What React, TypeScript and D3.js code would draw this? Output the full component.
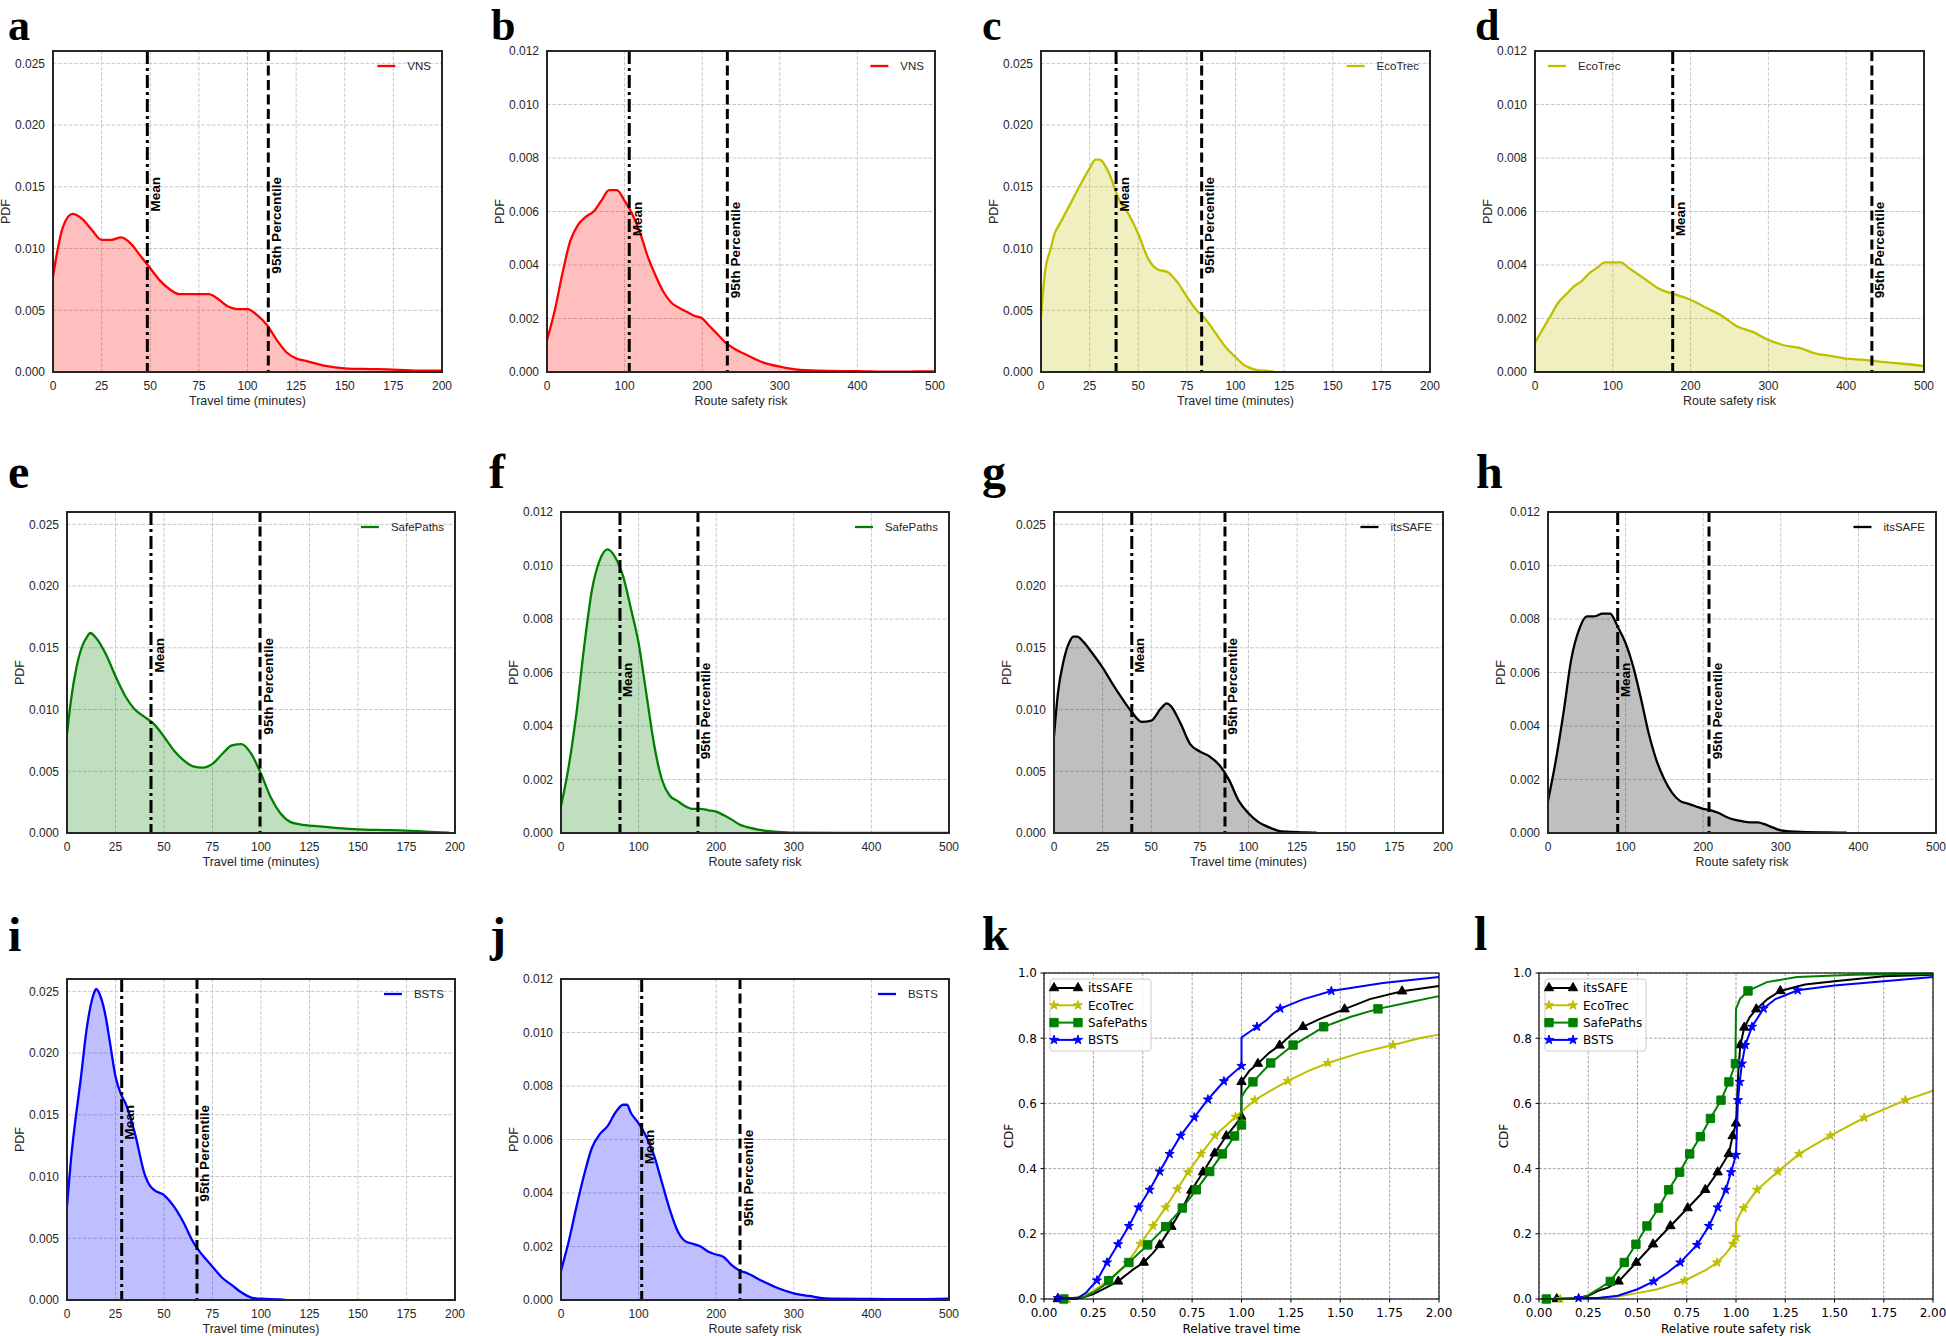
import React from 'react';
import * as d3 from 'd3';

type P = [number, number];
type C = number[]; // [x, cdf, markerFlag?]

// ---------- tick values ----------
const travelXTicks = [0, 25, 50, 75, 100, 125, 150, 175, 200];
const riskXTicks = [0, 100, 200, 300, 400, 500];
const travelYTicks = [0, 0.005, 0.01, 0.015, 0.02, 0.025];
const riskYTicks = [0, 0.002, 0.004, 0.006, 0.008, 0.01, 0.012];
const cdfXTicks = [0, 0.25, 0.5, 0.75, 1, 1.25, 1.5, 1.75, 2];
const cdfYTicks = [0, 0.2, 0.4, 0.6, 0.8, 1.0];

// ---------- methods ----------
const pdfMethods = ['VNS', 'EcoTrec', 'SafePaths', 'itsSAFE', 'BSTS'];
const cdfMethods = ['itsSAFE', 'EcoTrec', 'SafePaths', 'BSTS'];

// ---------- PDF (KDE) curves: travel time (minutes) ----------
const vnsTravel: P[] = [[0,0.0077],[2,0.0096],[5,0.0117],[10,0.0128],[15,0.0124],[20,0.0115],[25,0.0107],[30,0.0107],[35,0.0109],[40,0.0104],[45,0.0094],[50,0.0084],[55,0.0074],[60,0.0067],[65,0.0063],[70,0.0063],[75,0.0063],[80,0.0063],[85,0.0059],[90,0.0053],[95,0.0051],[100,0.0051],[105,0.0046],[110,0.0038],[115,0.0026],[120,0.0016],[125,0.0011],[130,0.0009],[140,0.0005],[150,0.0003],[160,0.00025],[175,0.0002],[190,0.0001],[200,0.0001]];
const ecoTravel: P[] = [[0,0.0045],[2,0.008],[5,0.0100],[7,0.0112],[10,0.0121],[15,0.0136],[20,0.0151],[25,0.0165],[28,0.0172],[30,0.0172],[35,0.0161],[40,0.0140],[45,0.0128],[50,0.0112],[55,0.0092],[60,0.0083],[65,0.0081],[70,0.0073],[75,0.0061],[80,0.0050],[85,0.0042],[90,0.0031],[95,0.0020],[100,0.0012],[105,0.0005],[110,0.0002],[115,0.0001],[120,0.00003]];
const safeTravel: P[] = [[0,0.0080],[2,0.0107],[5,0.0135],[8,0.0152],[10,0.0158],[12,0.0162],[15,0.0158],[20,0.0145],[25,0.0127],[30,0.0111],[35,0.0100],[40,0.0094],[45,0.0088],[50,0.0078],[55,0.0067],[60,0.0059],[65,0.0054],[70,0.0053],[75,0.0056],[80,0.0064],[85,0.0071],[90,0.0072],[95,0.0064],[100,0.0048],[105,0.0029],[110,0.0016],[115,0.0009],[120,0.0007],[130,0.00054],[140,0.0004],[150,0.0003],[160,0.00025],[175,0.0002],[185,0.0001],[197,0.00003]];
const itsTravel: P[] = [[0,0.0078],[2,0.0113],[5,0.0140],[8,0.0155],[10,0.0159],[12,0.0159],[15,0.0155],[20,0.0145],[25,0.0134],[30,0.0121],[35,0.0109],[40,0.0098],[45,0.0090],[50,0.0091],[55,0.0101],[58,0.0105],[60,0.0103],[65,0.0089],[70,0.0072],[75,0.0066],[80,0.0062],[85,0.0055],[90,0.0043],[95,0.0026],[100,0.0016],[105,0.0009],[110,0.0005],[115,0.0002],[120,0.0001],[130,0.00004],[135,0.00002]];
const bstsTravel: P[] = [[0,0.0076],[2,0.0113],[5,0.0154],[7,0.0178],[10,0.0218],[12,0.0237],[14,0.0249],[15,0.0252],[17,0.0247],[20,0.0229],[22,0.0210],[25,0.0181],[28,0.0166],[30,0.0160],[35,0.0135],[40,0.0102],[43,0.0092],[45,0.0089],[50,0.0085],[55,0.0076],[60,0.0063],[65,0.0047],[68,0.0040],[70,0.0036],[75,0.0027],[80,0.0018],[85,0.0012],[90,0.0006],[95,0.0002],[100,0.0001],[110,0.00005],[112,0.00002]];

// ---------- PDF (KDE) curves: route safety risk ----------
const vnsRisk: P[] = [[0,0.0012],[10,0.0023],[20,0.0037],[30,0.0049],[40,0.0055],[50,0.0058],[60,0.0060],[70,0.0064],[80,0.0068],[90,0.0068],[100,0.0064],[110,0.0059],[120,0.0052],[130,0.0043],[140,0.0036],[150,0.0030],[160,0.0026],[170,0.0024],[180,0.00225],[190,0.0021],[200,0.0020],[210,0.0017],[220,0.0014],[230,0.0011],[240,0.0009],[260,0.0006],[280,0.00034],[300,0.0002],[320,0.0001],[350,0.00005],[400,0.00003],[450,0.00001],[480,0.00002],[500,0.00002]];
const ecoRisk: P[] = [[0,0.0011],[10,0.0016],[20,0.0021],[30,0.0026],[40,0.0029],[50,0.0032],[60,0.0034],[70,0.0037],[80,0.0039],[90,0.0041],[100,0.0041],[110,0.0041],[120,0.0039],[140,0.0035],[160,0.0031],[180,0.0029],[200,0.0027],[220,0.0024],[240,0.0021],[260,0.0017],[280,0.0015],[300,0.0012],[320,0.0010],[340,0.0009],[360,0.0007],[380,0.0006],[400,0.0005],[420,0.00046],[440,0.0004],[460,0.00034],[480,0.00029],[500,0.00022]];
const safeRisk: P[] = [[0,0.0010],[10,0.0025],[20,0.0045],[30,0.0070],[40,0.0091],[50,0.0102],[60,0.0106],[70,0.0103],[80,0.0096],[90,0.0084],[100,0.0071],[110,0.0052],[120,0.0033],[130,0.0020],[140,0.0014],[150,0.0012],[160,0.0010],[170,0.0009],[180,0.0009],[190,0.00085],[200,0.0008],[210,0.00066],[220,0.0005],[230,0.00032],[240,0.00022],[260,0.0001],[280,0.00004],[300,0.00001],[400,0.0],[500,0.0]];
const itsRisk: P[] = [[0,0.0012],[10,0.0027],[20,0.0045],[30,0.0065],[40,0.0076],[50,0.0081],[60,0.0081],[70,0.0082],[80,0.0082],[90,0.0077],[100,0.0071],[110,0.0062],[120,0.0050],[130,0.0037],[140,0.0027],[150,0.0020],[160,0.0015],[170,0.0012],[180,0.0011],[190,0.0010],[200,0.0009],[210,0.00085],[220,0.00075],[230,0.0006],[240,0.0005],[250,0.00044],[260,0.0004],[270,0.0004],[280,0.00032],[290,0.0002],[300,0.0001],[320,0.00005],[360,0.00002],[385,0.00001]];
const bstsRisk: P[] = [[0,0.0011],[10,0.0022],[20,0.0035],[30,0.0047],[40,0.0057],[50,0.0062],[60,0.0065],[70,0.0070],[80,0.0073],[85,0.0073],[90,0.0070],[100,0.0066],[110,0.0061],[120,0.0054],[130,0.0044],[140,0.0034],[150,0.0026],[160,0.0022],[170,0.0021],[180,0.0020],[190,0.0018],[200,0.0017],[210,0.0016],[220,0.0013],[230,0.0011],[240,0.0010],[260,0.0007],[280,0.00044],[300,0.00025],[320,0.00015],[340,0.00006],[400,0.00004],[450,0.00003],[500,0.00005]];

// ---------- mean and 95th percentile (order: VNS, EcoTrec, SafePaths, itsSAFE, BSTS) ----------
const travelMeans = [48.5, 38.6, 43.3, 40.0, 28.2];
const travelP95 = [110.7, 82.6, 99.5, 87.9, 67.0];
const riskMeans = [106, 177, 76, 89.8, 104];
const riskP95 = [232.4, 433, 176.5, 207.5, 230.7];

// ---------- CDF curves (x, cdf, marker flag) ----------
const cdfTravelIts: C[] = [[0.07,0,1],[0.15,0],[0.20,0.005],[0.25,0.015],[0.30,0.03],[0.375,0.054,1],[0.45,0.09],[0.505,0.112,1],[0.55,0.14],[0.586,0.166,1],[0.645,0.222,1],[0.70,0.278],[0.746,0.333,1],[0.805,0.389,1],[0.864,0.447,1],[0.923,0.5,1],[0.97,0.535],[0.999,0.56,1],[1.0,0.666,1],[1.04,0.70],[1.083,0.722,1],[1.14,0.755],[1.193,0.778,1],[1.25,0.81],[1.311,0.835,1],[1.40,0.86],[1.522,0.889,1],[1.65,0.92],[1.813,0.944,1],[2.0,0.96]];
const cdfTravelEco: C[] = [[0.12,0,1],[0.2,0.01],[0.25,0.025],[0.33,0.058,1],[0.422,0.11,1],[0.488,0.169,1],[0.552,0.224,1],[0.616,0.281,1],[0.675,0.337,1],[0.729,0.389,1],[0.795,0.445,1],[0.866,0.501,1],[0.97,0.559,1],[1.0,0.575],[1.067,0.61,1],[1.15,0.64],[1.235,0.669,1],[1.34,0.70],[1.438,0.724,1],[1.6,0.755],[1.767,0.779,1],[1.9,0.80],[2.0,0.811]];
const cdfTravelSafe: C[] = [[0.10,0,1],[0.2,0.005],[0.25,0.02],[0.30,0.04],[0.327,0.056,1],[0.43,0.112,1],[0.525,0.166,1],[0.616,0.222,1],[0.70,0.279,1],[0.771,0.335,1],[0.839,0.391,1],[0.903,0.445,1],[0.965,0.50,1],[1.0,0.534,1],[1.0,0.62],[1.02,0.64],[1.058,0.666,1],[1.148,0.724,1],[1.261,0.779,1],[1.35,0.81],[1.416,0.835,1],[1.55,0.865],[1.691,0.89,1],[1.85,0.91],[2.0,0.929]];
const cdfTravelBsts: C[] = [[0.07,0.003,1],[0.17,0.002],[0.214,0.02],[0.268,0.057,1],[0.319,0.112,1],[0.375,0.168,1],[0.43,0.224,1],[0.479,0.281,1],[0.535,0.335,1],[0.586,0.391,1],[0.636,0.445,1],[0.692,0.501,1],[0.761,0.557,1],[0.830,0.612,1],[0.911,0.668,1],[1.0,0.715,1],[1.0,0.802],[1.078,0.835,1],[1.126,0.855],[1.16,0.875],[1.196,0.891,1],[1.311,0.919],[1.455,0.945,1],[1.716,0.969],[2.0,0.988]];

const cdfRiskIts: C[] = [[0.09,0,1],[0.2,0.003],[0.25,0.01],[0.30,0.025],[0.35,0.035],[0.404,0.054,1],[0.494,0.112,1],[0.579,0.168,1],[0.667,0.224,1],[0.755,0.279,1],[0.844,0.335,1],[0.907,0.389,1],[0.963,0.445,1],[0.983,0.50,1],[1.0,0.539,1],[1.005,0.60],[1.012,0.70],[1.022,0.779,1],[1.042,0.833,1],[1.07,0.865],[1.103,0.889,1],[1.16,0.92],[1.225,0.945,1],[1.35,0.965],[1.5,0.975],[1.75,0.99],[2.0,0.995]];
const cdfRiskEco: C[] = [[0.108,0,1],[0.3,0.003],[0.4,0.008],[0.5,0.018],[0.6,0.03],[0.739,0.056,1],[0.8,0.075],[0.85,0.09],[0.904,0.112,1],[0.95,0.14],[0.985,0.169,1],[1.0,0.19,1],[1.0,0.235],[1.02,0.26],[1.039,0.279,1],[1.107,0.335,1],[1.213,0.391,1],[1.321,0.445,1],[1.479,0.501,1],[1.651,0.556,1],[1.86,0.61,1],[2.0,0.639]];
const cdfRiskSafe: C[] = [[0.037,0,1],[0.2,0.002],[0.25,0.012],[0.30,0.03],[0.362,0.054,1],[0.433,0.112,1],[0.492,0.168,1],[0.548,0.224,1],[0.607,0.279,1],[0.658,0.335,1],[0.714,0.389,1],[0.765,0.445,1],[0.819,0.498,1],[0.870,0.554,1],[0.924,0.61,1],[0.964,0.666,1],[0.997,0.722,1],[1.0,0.89],[1.02,0.92],[1.061,0.945,1],[1.157,0.972],[1.31,0.988],[1.6,0.995],[2.0,0.998]];
const cdfRiskBsts: C[] = [[0.201,0.003,1],[0.3,0.003],[0.4,0.01],[0.5,0.03],[0.582,0.054,1],[0.65,0.08],[0.717,0.112,1],[0.802,0.166,1],[0.863,0.224,1],[0.907,0.281,1],[0.948,0.335,1],[0.975,0.389,1],[1.0,0.442,1],[1.005,0.53],[1.010,0.61,1],[1.019,0.666,1],[1.03,0.722,1],[1.047,0.779,1],[1.081,0.835,1],[1.14,0.891,1],[1.2,0.92],[1.313,0.947,1],[1.5,0.962],[1.75,0.975],[2.0,0.988]];

// ---------- assembled tables ----------
const travelSeries = [vnsTravel, ecoTravel, safeTravel, itsTravel, bstsTravel];
const riskSeries = [vnsRisk, ecoRisk, safeRisk, itsRisk, bstsRisk];
const cdfTravelSeries = [cdfTravelIts, cdfTravelEco, cdfTravelSafe, cdfTravelBsts];
const cdfRiskSeries = [cdfRiskIts, cdfRiskEco, cdfRiskSafe, cdfRiskBsts];

// ---------- styles ----------
const methodColor: Record<string, string> = {
  VNS: '#ff0000', EcoTrec: '#bfbf00', SafePaths: '#008000', itsSAFE: '#000000', BSTS: '#0000ff',
};
const methodSymbol: Record<string, any> = {
  itsSAFE: d3.symbolTriangle, EcoTrec: d3.symbolStar, SafePaths: d3.symbolSquare, BSTS: d3.symbolStar,
};
const methodSymbolSize: Record<string, number> = { itsSAFE: 38, EcoTrec: 26, SafePaths: 70, BSTS: 26 };

const SANS = '"Liberation Sans", Arial, Helvetica, sans-serif';
const DEJAVU = '"DejaVu Sans", sans-serif';
const SERIF = '"Liberation Serif", "Times New Roman", serif';

// ---------- layout ----------
const pdfPanels = [
  { letter: 'a', kind: 'travel', m: 0, L: 53, R: 442, T: 51, B: 372, lx: 8, ly: 40, ls: 44 },
  { letter: 'b', kind: 'risk', m: 0, L: 547, R: 935, T: 51, B: 372, lx: 491, ly: 40, ls: 44 },
  { letter: 'c', kind: 'travel', m: 1, L: 1041, R: 1430, T: 51, B: 372, lx: 982, ly: 40, ls: 44 },
  { letter: 'd', kind: 'risk', m: 1, L: 1535, R: 1924, T: 51, B: 372, lx: 1475, ly: 40, ls: 44, legendLeft: true },
  { letter: 'e', kind: 'travel', m: 2, L: 67, R: 455, T: 512, B: 833, lx: 8, ly: 488, ls: 48 },
  { letter: 'f', kind: 'risk', m: 2, L: 561, R: 949, T: 512, B: 833, lx: 489, ly: 488, ls: 48 },
  { letter: 'g', kind: 'travel', m: 3, L: 1054, R: 1443, T: 512, B: 833, lx: 982, ly: 488, ls: 48 },
  { letter: 'h', kind: 'risk', m: 3, L: 1548, R: 1936, T: 512, B: 833, lx: 1476, ly: 488, ls: 48 },
  { letter: 'i', kind: 'travel', m: 4, L: 67, R: 455, T: 979, B: 1300, lx: 8, ly: 951, ls: 48 },
  { letter: 'j', kind: 'risk', m: 4, L: 561, R: 949, T: 979, B: 1300, lx: 490, ly: 951, ls: 48 },
];
const cdfPanels = [
  { letter: 'k', kind: 'travel', L: 1044, R: 1439, T: 973, B: 1299, lx: 982, ly: 950, ls: 48, xlabel: 'Relative travel time' },
  { letter: 'l', kind: 'risk', L: 1539, R: 1933, T: 973, B: 1299, lx: 1474, ly: 950, ls: 48, xlabel: 'Relative route safety risk' },
];

let measureCtx: CanvasRenderingContext2D | null = null;
function textWidth(s: string, font: string): number {
  if (typeof document === 'undefined') return s.length * 6.5;
  if (!measureCtx) measureCtx = document.createElement('canvas').getContext('2d');
  if (!measureCtx) return s.length * 6.5;
  measureCtx.font = font;
  return measureCtx.measureText(s).width;
}

function PdfPanel({ cfg }: { cfg: any }) {
  const { L, R, T, B, kind, m, letter, lx, ly, ls, legendLeft } = cfg;
  const isT = kind === 'travel';
  const name = pdfMethods[m];
  const color = methodColor[name];
  const x = d3.scaleLinear().domain(isT ? [0, 200] : [0, 500]).range([L, R]);
  const y = d3.scaleLinear().domain(isT ? [0, 0.026] : [0, 0.012]).range([B, T]);
  const data = isT ? travelSeries[m] : riskSeries[m];
  const xTicks = isT ? travelXTicks : riskXTicks;
  const yTicks = isT ? travelYTicks : riskYTicks;
  const line = d3.line<P>().x(d => x(d[0])).y(d => y(d[1])).curve(d3.curveMonotoneX);
  const area = d3.area<P>().x(d => x(d[0])).y0(y(0)).y1(d => y(d[1])).curve(d3.curveMonotoneX);
  const meanX = x(isT ? travelMeans[m] : riskMeans[m]);
  const p95X = x(isT ? travelP95[m] : riskP95[m]);
  const labelY = y(isT ? 0.0158 : 0.00637);
  const clipId = `clip-${letter}`;
  const legendFont = `11.5px ${SANS}`;
  const lw = textWidth(name, legendFont);
  let textX: number, lineX1: number;
  if (legendLeft) {
    lineX1 = L + 13;
    textX = lineX1 + 18 + 12;
  } else {
    textX = R - 11 - lw;
    lineX1 = textX - 12 - 18;
  }
  const legY = T + 15;
  return (
    <g>
      <text x={lx} y={ly} fontFamily={SERIF} fontWeight="bold" fontSize={ls} fill="#000">{letter}</text>
      <defs>
        <clipPath id={clipId}><rect x={L} y={T} width={R - L} height={B - T} /></clipPath>
      </defs>
      <rect x={L} y={T} width={R - L} height={B - T} fill="#fff" />
      {xTicks.map(t => (
        <line key={'gx' + t} x1={x(t)} x2={x(t)} y1={T} y2={B} stroke="#c8c8c8" strokeWidth={1} strokeDasharray="3.7,1.6" />
      ))}
      {yTicks.map(t => (
        <line key={'gy' + t} x1={L} x2={R} y1={y(t)} y2={y(t)} stroke="#c8c8c8" strokeWidth={1} strokeDasharray="3.7,1.6" />
      ))}
      <g clipPath={`url(#${clipId})`}>
        <path d={area(data) || ''} fill={color} fillOpacity={0.25} stroke="none" />
        <path d={line(data) || ''} fill="none" stroke={color} strokeWidth={2.3} />
        <line x1={meanX} x2={meanX} y1={T} y2={B} stroke="#000" strokeWidth={3} strokeDasharray="13,4,3,4" />
        <line x1={p95X} x2={p95X} y1={T} y2={B} stroke="#000" strokeWidth={3} strokeDasharray="10,4.5" />
      </g>
      <text transform={`translate(${meanX + 12.5},${labelY}) rotate(-90)`} textAnchor="end" fontFamily={SANS} fontWeight="bold" fontSize={13.6} fill="#000">Mean</text>
      <text transform={`translate(${p95X + 12.5},${labelY}) rotate(-90)`} textAnchor="end" fontFamily={SANS} fontWeight="bold" fontSize={13.6} fill="#000">95th Percentile</text>
      <line x1={lineX1} x2={lineX1 + 18} y1={legY} y2={legY} stroke={color} strokeWidth={2.3} />
      <text x={textX} y={legY + 4} fontFamily={SANS} fontSize={11.5} fill="#262626">{name}</text>
      <rect x={L} y={T} width={R - L} height={B - T} fill="none" stroke="#262626" strokeWidth={2} />
      {xTicks.map(t => (
        <text key={'tx' + t} x={x(t)} y={B + 18} textAnchor="middle" fontFamily={SANS} fontSize={12} fill="#262626">{String(t)}</text>
      ))}
      {yTicks.map(t => (
        <text key={'ty' + t} x={L - 8} y={y(t) + 4.3} textAnchor="end" fontFamily={SANS} fontSize={12} fill="#262626">{d3.format('.3f')(t)}</text>
      ))}
      <text x={(L + R) / 2} y={B + 33} textAnchor="middle" fontFamily={SANS} fontSize={12.5} fill="#262626">{isT ? 'Travel time (minutes)' : 'Route safety risk'}</text>
      <text transform={`translate(${L - 43},${(T + B) / 2}) rotate(-90)`} textAnchor="middle" fontFamily={SANS} fontSize={12.5} fill="#262626">PDF</text>
    </g>
  );
}

function CdfPanel({ cfg }: { cfg: any }) {
  const { L, R, T, B, kind, letter, lx, ly, ls, xlabel } = cfg;
  const x = d3.scaleLinear().domain([0, 2]).range([L, R]);
  const y = d3.scaleLinear().domain([0, 1]).range([B, T]);
  const series = kind === 'travel' ? cdfTravelSeries : cdfRiskSeries;
  const line = d3.line<C>().x(d => x(d[0])).y(d => y(d[1]));
  const clipId = `clip-${letter}`;
  const symbolPath = (name: string) => d3.symbol().type(methodSymbol[name]).size(methodSymbolSize[name])() || '';
  return (
    <g>
      <text x={lx} y={ly} fontFamily={SERIF} fontWeight="bold" fontSize={ls} fill="#000">{letter}</text>
      <defs>
        <clipPath id={clipId}><rect x={L - 6} y={T - 6} width={R - L + 12} height={B - T + 12} /></clipPath>
      </defs>
      <rect x={L} y={T} width={R - L} height={B - T} fill="#fff" />
      {cdfXTicks.map(t => (
        <line key={'gx' + t} x1={x(t)} x2={x(t)} y1={T} y2={B} stroke="#9a9a9a" strokeWidth={0.9} strokeDasharray="3,1.6" />
      ))}
      {cdfYTicks.map(t => (
        <line key={'gy' + t} x1={L} x2={R} y1={y(t)} y2={y(t)} stroke="#9a9a9a" strokeWidth={0.9} strokeDasharray="3,1.6" />
      ))}
      <g clipPath={`url(#${clipId})`}>
        {series.map((s, i) => {
          const name = cdfMethods[i];
          const color = methodColor[name];
          const sp = symbolPath(name);
          return (
            <g key={name}>
              <path d={line(s) || ''} fill="none" stroke={color} strokeWidth={2} />
              {s.filter(d => d[2]).map((d, j) => (
                <path key={j} d={sp} transform={`translate(${x(d[0])},${y(d[1])})`} fill={color} stroke={color} strokeWidth={1} />
              ))}
            </g>
          );
        })}
      </g>
      <rect x={L} y={T} width={R - L} height={B - T} fill="none" stroke="#000" strokeWidth={1.1} />
      {cdfXTicks.map(t => (
        <g key={'tx' + t}>
          <line x1={x(t)} x2={x(t)} y1={B} y2={B + 3.5} stroke="#000" strokeWidth={1} />
          <text x={x(t)} y={B + 18} textAnchor="middle" fontFamily={DEJAVU} fontSize={12} fill="#000">{d3.format('.2f')(t)}</text>
        </g>
      ))}
      {cdfYTicks.map(t => (
        <g key={'ty' + t}>
          <line x1={L - 3.5} x2={L} y1={y(t)} y2={y(t)} stroke="#000" strokeWidth={1} />
          <text x={L - 7} y={y(t) + 4.3} textAnchor="end" fontFamily={DEJAVU} fontSize={12} fill="#000">{d3.format('.1f')(t)}</text>
        </g>
      ))}
      <text x={(L + R) / 2} y={B + 34} textAnchor="middle" fontFamily={DEJAVU} fontSize={12} fill="#000">{xlabel}</text>
      <text transform={`translate(${L - 31},${(T + B) / 2}) rotate(-90)`} textAnchor="middle" fontFamily={DEJAVU} fontSize={12} fill="#000">CDF</text>
      <rect x={L + 6} y={T + 6} width={101} height={72} rx={3} fill="#fff" fillOpacity={0.85} stroke="#cccccc" strokeWidth={1} />
      {cdfMethods.map((name, i) => {
        const ey = T + 15 + i * 17.3;
        const color = methodColor[name];
        const sp = symbolPath(name);
        return (
          <g key={'lg' + name}>
            <line x1={L + 10} x2={L + 34} y1={ey} y2={ey} stroke={color} strokeWidth={2} />
            <path d={sp} transform={`translate(${L + 10},${ey})`} fill={color} stroke={color} />
            <path d={sp} transform={`translate(${L + 34},${ey})`} fill={color} stroke={color} />
            <text x={L + 44} y={ey + 4.3} fontFamily={DEJAVU} fontSize={12} fill="#000">{name}</text>
          </g>
        );
      })}
    </g>
  );
}

export default function App() {
  return (
    <svg width={1946} height={1336} style={{ position: 'absolute', left: 0, top: 0, background: '#fff' }}>
      <rect x={0} y={0} width={1946} height={1336} fill="#fff" />
      {pdfPanels.map(p => <PdfPanel key={p.letter} cfg={p} />)}
      {cdfPanels.map(p => <CdfPanel key={p.letter} cfg={p} />)}
    </svg>
  );
}
